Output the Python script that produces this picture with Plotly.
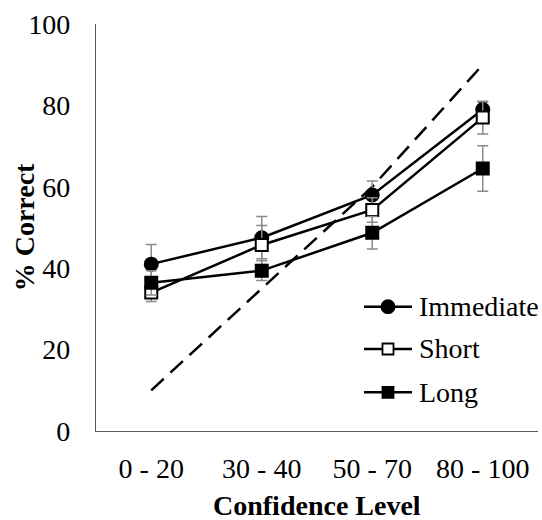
import plotly.graph_objects as go

categories = ["0 - 20", "30 - 40", "50 - 70", "80 - 100"]
immediate = [41.0, 47.5, 58.0, 79.0]
immediate_err = [4.8, 5.2, 3.4, 1.8]
short = [34.0, 45.7, 54.3, 77.0]
short_err = [2.2, 4.8, 3.0, 4.0]
long_ = [36.4, 39.4, 48.7, 64.5]
long_err = [3.0, 2.4, 4.0, 5.6]
calibration = [10, 35, 60, 90]

series_names = ["Immediate", "Short", "Long"]

FONT = "'Liberation Serif', 'Times New Roman', serif"
FS = 28
ERRC = "#8a8a8a"

fig = go.Figure()

fig.add_trace(go.Scatter(
    x=categories, y=calibration, mode="lines",
    line=dict(color="black", width=2.5, dash="17px,9px"),
    showlegend=False, hoverinfo="skip"))

def add_series(name, y, err, symbol, fill, size):
    fig.add_trace(go.Scatter(
        x=categories, y=y, name=name, mode="lines+markers",
        showlegend=False,
        line=dict(color="black", width=2.5),
        marker=dict(symbol=symbol, size=size, color=fill,
                    line=dict(color="black", width=2)),
        error_y=dict(type="data", array=err, visible=True,
                     color=ERRC, thickness=1.5, width=5.5)))

add_series(series_names[0], immediate, immediate_err, "circle", "black", 13)
add_series(series_names[1], short, short_err, "square", "white", 12)
add_series(series_names[2], long_, long_err, "square", "black", 12)

# manual legend (paper coordinates)
leg_x0, leg_x1, leg_xm, leg_tx = 0.6063, 0.7149, 0.6606, 0.7262
leg_ys = [0.3054, 0.2015, 0.0951]
leg_styles = [("circle", "black"), ("square", "white"), ("square", "black")]
shapes = []
annotations = []
for name, ly, (sym, fill) in zip(series_names, leg_ys, leg_styles):
    shapes.append(dict(type="line", xref="paper", yref="paper",
                       x0=leg_x0, x1=leg_x1, y0=ly, y1=ly,
                       line=dict(color="black", width=2.5)))
    r = 6.5 if sym == "circle" else 5.5
    shapes.append(dict(type="circle" if sym == "circle" else "rect",
                       xref="paper", yref="paper",
                       xsizemode="pixel", ysizemode="pixel",
                       xanchor=leg_xm, yanchor=ly,
                       x0=-r, x1=r, y0=-r, y1=r,
                       fillcolor=fill, line=dict(color="black", width=1.8)))
    annotations.append(dict(text=name, xref="paper", yref="paper",
                            x=leg_tx, y=ly, xanchor="left", yanchor="middle",
                            showarrow=False,
                            font=dict(family=FONT, size=FS, color="black")))

annotations += [
    dict(text="<b>% Correct</b>", xref="paper", yref="paper",
         x=-0.161, y=0.5, xanchor="center", yanchor="middle",
         textangle=-90, showarrow=False,
         font=dict(family=FONT, size=FS, color="black")),
    dict(text="<b>Confidence Level</b>", xref="paper", yref="paper",
         x=0.5, y=-0.182, xanchor="center", yanchor="middle",
         showarrow=False,
         font=dict(family=FONT, size=FS, color="black")),
]

fig.update_layout(
    width=542, height=520,
    margin=dict(l=96, r=4, t=24, b=89),
    paper_bgcolor="white", plot_bgcolor="white",
    font=dict(family=FONT, size=FS, color="black"),
    showlegend=False,
    xaxis=dict(type="category", range=[-0.5, 3.5], showgrid=False,
               showline=True, linecolor="#595959", linewidth=1.3,
               ticks="", ticklabelstandoff=12, zeroline=False,
               tickfont=dict(family=FONT, size=FS, color="black")),
    yaxis=dict(range=[0, 100], tickvals=[0, 20, 40, 60, 80, 100],
               showgrid=False, showline=True, linecolor="#595959",
               linewidth=1.3, ticks="", ticklabelstandoff=19,
               zeroline=False,
               tickfont=dict(family=FONT, size=FS, color="black")),
    shapes=shapes,
    annotations=annotations,
)

fig.write_html("out.html")
